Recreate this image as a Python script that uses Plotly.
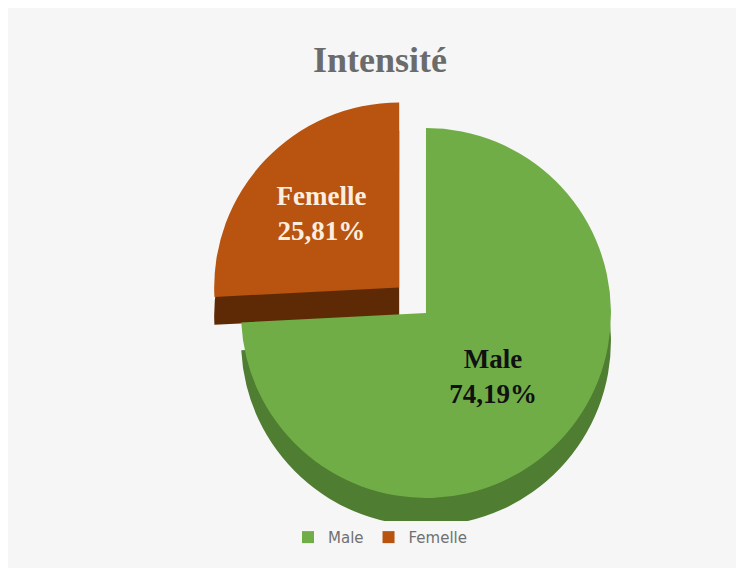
import plotly.graph_objects as go

labels = ["Male", "Femelle"]
values = [74.19, 25.81]
text_labels = ["Male<br>74,19%", "Femelle<br>25,81%"]

top_colors = ["#70ad47", "#b8540f"]
side_colors = ["#4f7d31", "#5e2a06"]
pulls = [0, 0.2]

fig = go.Figure()

# darker copy underneath, shifted down, to fake the 3D thickness
fig.add_trace(
    go.Pie(
        labels=labels,
        values=values,
        sort=False,
        direction="clockwise",
        rotation=0,
        pull=pulls,
        marker={"colors": side_colors, "line": {"width": 0}},
        textinfo="none",
        hoverinfo="skip",
        showlegend=False,
        domain={"x": [0.2634, 0.8602], "y": [0.0232, 0.8048]},
    )
)
fig.add_trace(
    go.Pie(
        labels=labels,
        values=values,
        sort=False,
        direction="clockwise",
        rotation=0,
        pull=pulls,
        text=text_labels,
        texttemplate="<b>%{text}</b>",
        textposition="inside",
        insidetextorientation="horizontal",
        textfont={"family": "Liberation Serif", "size": 27, "color": ["#111111", "#fbeee0"]},
        marker={"colors": top_colors, "line": {"width": 0}},
        hovertemplate="<b>%{label}</b><br>%{percent}<extra></extra>",
        domain={"x": [0.2634, 0.8602], "y": [0.0722, 0.8538]},
    )
)

fig.update_layout(
    width=744,
    height=568,
    paper_bgcolor="#f6f6f6",
    plot_bgcolor="#f6f6f6",
    margin={"l": 0, "r": 0, "t": 0, "b": 0},
    title={
        "text": "<b>Intensité</b>",
        "x": 0.5,
        "y": 0.91,
        "xanchor": "center",
        "yanchor": "middle",
        "font": {"family": "Liberation Serif", "size": 36, "color": "#6b6b6b"},
    },
    showlegend=True,
    legend={
        "orientation": "h",
        "x": 0.5,
        "xanchor": "center",
        "y": 0.068,
        "yanchor": "middle",
        "font": {"family": "DejaVu Sans", "size": 15, "color": "#707070"},
        "itemwidth": 30,
    },
)

fig.write_html("out.html")
